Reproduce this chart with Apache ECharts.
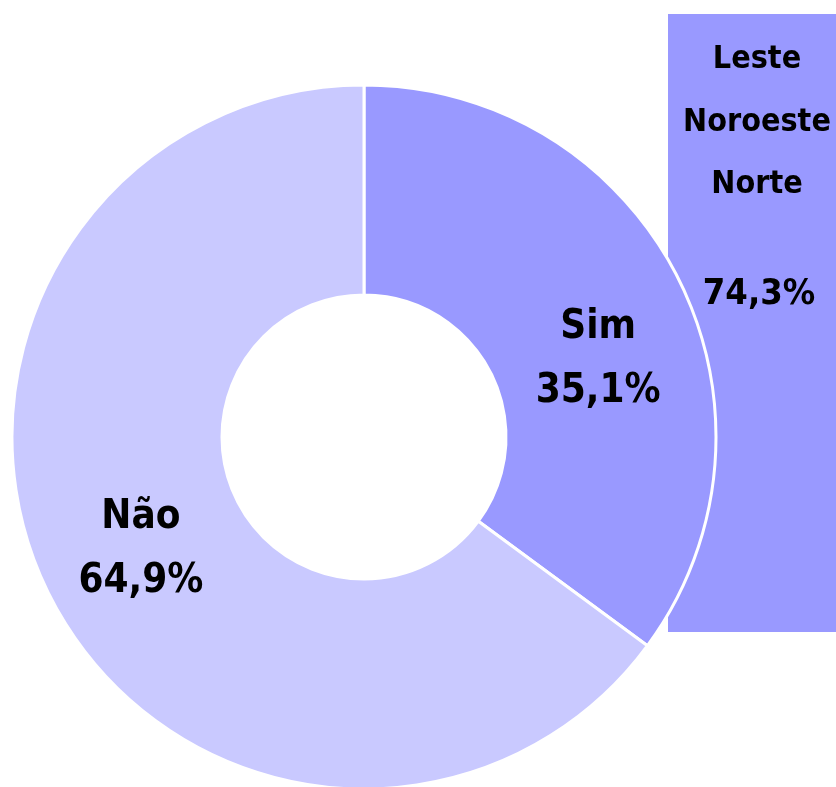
<!DOCTYPE html>
<html>
<head>
<meta charset="utf-8">
<script src="https://cdn.jsdelivr.net/npm/echarts@6/dist/echarts.min.js"></script>
<style>
  html, body { margin: 0; padding: 0; background: #fff; }
  #myChart { width: 836px; height: 787px; }
</style>
</head>
<body>
<div id="myChart"></div>
<script>
// dados
const categories = ["Sim", "Não"];
const values = [35.1, 64.9];
const colors = ["#9999ff", "#c9c9ff"];
const boxRegions = ["Leste", "Noroeste", "Norte"];
const boxValue = 74.3;

const fmt = (v) => v.toFixed(1).replace(".", ",") + "%";
const font = "'DejaVu Sans Condensed', 'DejaVu Sans', sans-serif";

let myChart = echarts.init(document.getElementById("myChart"));

const pieData = categories.map((name, i) => ({
  name: name,
  value: values[i],
  itemStyle: { color: colors[i] },
  // o rótulo "Sim" fica um pouco mais para fora
  label: i === 0 ? { offset: [11, 35] } : {},
}));

myChart.setOption({
  animation: false,
  graphic: [
    {
      type: "rect",
      z: 0,
      shape: { x: 668, y: 14, width: 168, height: 618 },
      style: { fill: "#9999ff" },
    },
    ...boxRegions.map((t, i) => ({
      type: "text",
      z: 1,
      x: 757,
      y: 60 + i * 62.5,
      style: {
        text: t,
        fill: "#000",
        font: "bold 32px " + font,
        textAlign: "center",
        textVerticalAlign: "middle",
      },
    })),
    {
      type: "text",
      z: 1,
      x: 759,
      y: 295,
      style: {
        text: fmt(boxValue),
        fill: "#000",
        font: "bold 36px " + font,
        textAlign: "center",
        textVerticalAlign: "middle",
      },
    },
  ],
  series: [
    {
      type: "pie",
      z: 5,
      center: [364, 437],
      radius: [142, 352],
      startAngle: 90,
      clockwise: true,
      avoidLabelOverlap: false,
      itemStyle: { borderColor: "#fff", borderWidth: 3 },
      label: {
        show: true,
        position: "inside",
        formatter: (p) => p.name + "\n" + fmt(p.value),
        color: "#000",
        fontFamily: font,
        fontWeight: "bold",
        fontSize: 40,
        lineHeight: 64,
      },
      labelLine: { show: false },
      emphasis: { disabled: true },
      data: pieData,
    },
  ],
});
</script>
</body>
</html>
